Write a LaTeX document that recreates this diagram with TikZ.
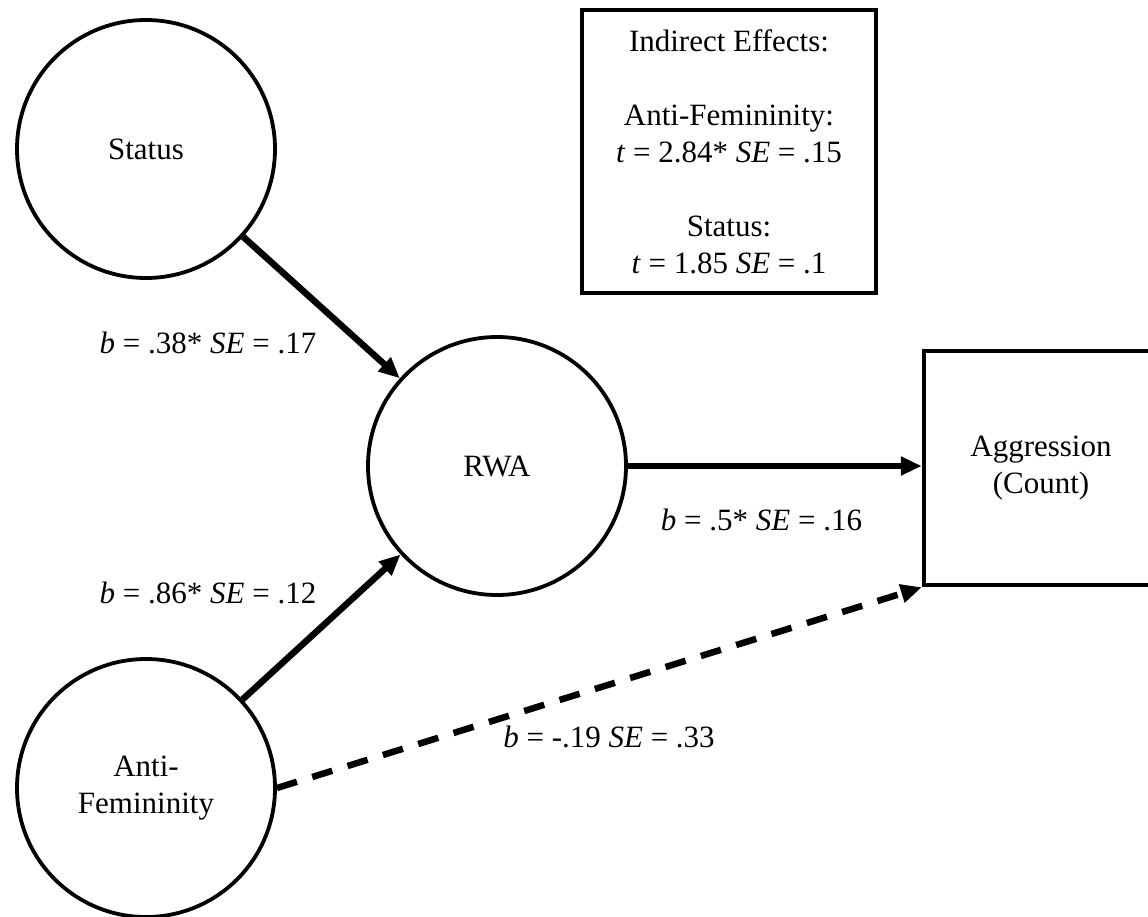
\documentclass[tikz,border=0pt]{standalone}
\usepackage{fontspec}
\setmainfont{Liberation Serif}
\usetikzlibrary{arrows.meta}
\tikzset{
  every node/.style={font=\fontsize{31}{37}\selectfont},
  latent/.style={draw, circle, line width=3.8pt, minimum size=258pt, inner sep=0pt, align=center},
  boxnode/.style={draw, rectangle, line width=4.5pt, inner sep=0pt, align=center},
  path/.style={line width=6.5pt, -{Triangle[length=21pt,width=18pt]}},
  nspath/.style={path, dash pattern=on 21pt off 16pt},
  coef/.style={anchor=base}
}
\begin{document}
\begin{tikzpicture}[x=1pt, y=-1pt]
  \clip (0,0) rectangle (1148,916);
  \fill[white] (0,0) rectangle (1148,916);

  % variables
  \node[latent] (status) at (146,149) {Status};
  \node[latent] (rwa) at (497,466) {RWA};
  \node[latent] (antifem) at (146,788) {Anti-\\Femininity};
  \node[boxnode, minimum width=234pt, minimum height=234pt] (aggr) at (1041,468) {Aggression\\(Count)};

  % indirect effects summary
  \node[boxnode, minimum width=294pt, minimum height=283pt] (indirect) at (729,151.5)
    {Indirect Effects:\\[37pt]
     Anti-Femininity:\\
     \textit{t} = 2.84* \textit{SE} = .15\\[37pt]
     Status:\\
     \textit{t} = 1.85 \textit{SE} = .1};

  % paths
  \draw[path] (status) -- (rwa);
  \draw[path] (antifem) -- (rwa);
  \draw[path] (rwa) -- (aggr.west |- rwa.east);
  \draw[nspath] (antifem.east) -- (aggr.south west);

  % coefficients
  \node[coef] (c1) at (208,353) {\textit{b} = .38* \textit{SE} = .17};
  \node[coef] (c2) at (208,603) {\textit{b} = .86* \textit{SE} = .12};
  \node[coef] (c3) at (761.5,530) {\textit{b} = .5* \textit{SE} = .16};
  \node[coef] (c4) at (609,747) {\textit{b} = -.19 \textit{SE} = .33};
\end{tikzpicture}
\end{document}
